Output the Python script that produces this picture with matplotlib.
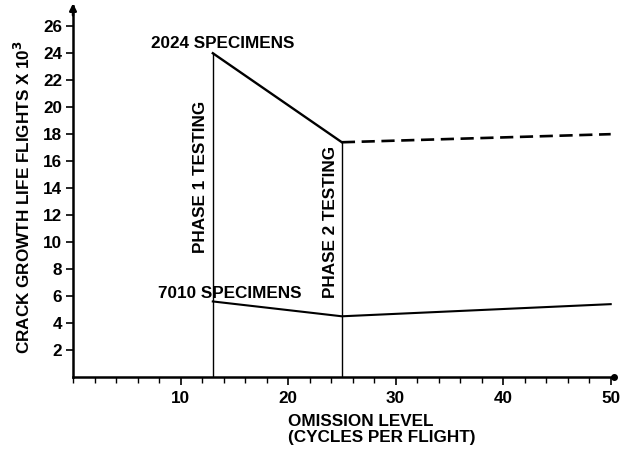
import matplotlib
matplotlib.use("Agg")
import matplotlib.pyplot as plt
from matplotlib.ticker import MultipleLocator

plt.rcParams['font.family'] = ['Liberation Sans', 'DejaVu Sans']
plt.rcParams['font.weight'] = 'bold'

# Crack growth life (flights x 10^3) versus omission level
x_2024_tested = [13, 25]
y_2024_tested = [24.0, 17.4]
x_2024_extrap = [25, 50]
y_2024_extrap = [17.4, 18.0]

x_7010 = [13, 25, 50]
y_7010 = [5.6, 4.5, 5.4]

phase_x = [13, 25]
phase_labels = ["PHASE 1 TESTING", "PHASE 2 TESTING"]

x_ticks = [10, 20, 30, 40, 50]
y_ticks = [2, 4, 6, 8, 10, 12, 14, 16, 18, 20, 22, 24, 26]

FS = 12.3

fig = plt.figure(figsize=(6.21, 4.55), dpi=100)
ax = fig.add_axes([73 / 621, 78 / 455, 542 / 621, 371 / 455])
ax.set_xlim(0, 50.4)
ax.set_ylim(0, 27.5)

for s in ("top", "right"):
    ax.spines[s].set_visible(False)
for s in ("left", "bottom"):
    ax.spines[s].set_linewidth(1.8)

ax.plot(x_2024_tested, y_2024_tested, color="black", lw=1.7)
ax.plot(x_2024_extrap, y_2024_extrap, color="black", lw=1.9, ls=(0, (5, 2.5)))
ax.plot(x_7010, y_7010, color="black", lw=1.5)

# Phase boundaries, running up to each 2024 curve point
ax.plot([phase_x[0], phase_x[0]], [0, y_2024_tested[0]], color="black", lw=1.0)
ax.plot([phase_x[1], phase_x[1]], [0, y_2024_tested[1]], color="black", lw=1.0)

ax.text(11.9, 14.8, phase_labels[0], rotation=90, ha="center", va="center",
        fontsize=FS, fontweight="bold")
ax.text(23.9, 11.5, phase_labels[1], rotation=90, ha="center", va="center",
        fontsize=FS, fontweight="bold")

ax.text(13.9, 24.75, "2024 SPECIMENS", ha="center", va="center", fontsize=FS, fontweight="bold")
ax.text(14.6, 6.2, "7010 SPECIMENS", ha="center", va="center", fontsize=FS, fontweight="bold")

ax.set_xticks(x_ticks)
ax.set_xticklabels([str(v) for v in x_ticks])
ax.xaxis.set_minor_locator(MultipleLocator(2))
ax.set_yticks(y_ticks)
ax.set_yticklabels([str(v) for v in y_ticks])
ax.tick_params(axis="x", which="major", length=6, width=1.2, labelsize=FS, pad=4)
ax.tick_params(axis="x", which="minor", length=4, width=1.0)
ax.tick_params(axis="y", which="major", length=5, width=1.2, labelsize=FS, pad=3)
for lab in ax.get_xticklabels() + ax.get_yticklabels():
    lab.set_fontweight("bold")

fig.text(23 / 621, 1 - 197 / 455, "CRACK GROWTH LIFE FLIGHTS X 10$^\\mathbf{3}$", rotation=90,
         ha="center", va="center", fontsize=FS, fontweight="bold")
fig.text(288 / 621, 1 - 445 / 455, "OMISSION LEVEL\n(CYCLES PER FLIGHT)", ha="left", va="bottom",
         fontsize=FS, fontweight="bold", linespacing=1.05)

# Arrowhead on the vertical axis and end dot on the horizontal axis
ax.annotate("", xy=(0, 27.9), xytext=(0, 26.6), xycoords="data",
            arrowprops=dict(arrowstyle="-|>", color="black", lw=1.8, mutation_scale=10),
            annotation_clip=False)
ax.plot([50.3], [0], marker="o", color="black", ms=4, clip_on=False)

fig.savefig("out.png", dpi=100)
